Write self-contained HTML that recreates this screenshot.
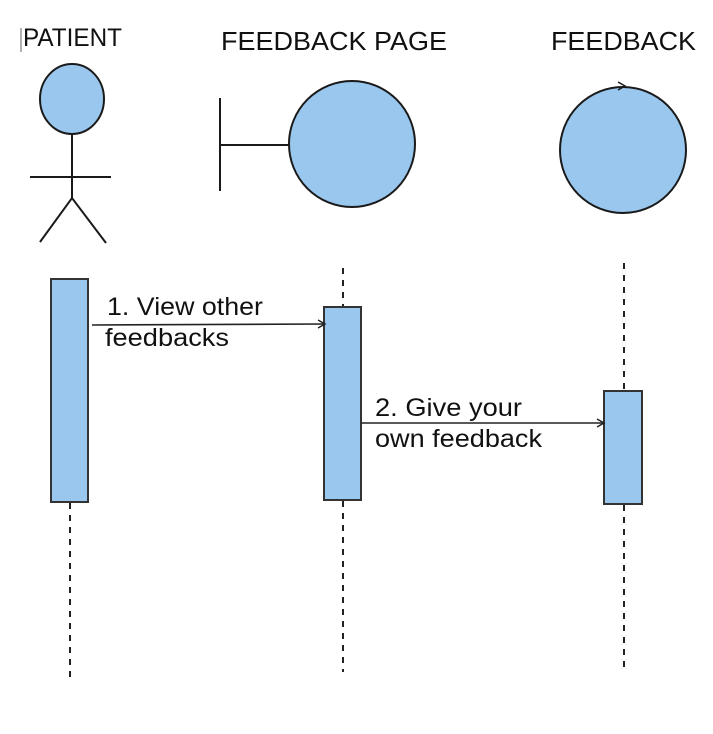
<!DOCTYPE html>
<html><head><style>body{margin:0;background:#fff}svg{display:block}text{font-family:"Liberation Sans",sans-serif;fill:#111}</style></head><body>
<svg width="713" height="734" viewBox="0 0 713 734" xmlns="http://www.w3.org/2000/svg">
<defs><marker id="a" markerWidth="10" markerHeight="10" refX="8" refY="5" orient="auto" markerUnits="userSpaceOnUse"><path d="M1,1 L8,5 L1,9" fill="none" stroke="#222" stroke-width="1.5"/></marker></defs>
<line x1="21" y1="28" x2="21" y2="52" stroke="#666" stroke-width="1"/>
<text x="23" y="46" font-size="25" textLength="99" lengthAdjust="spacingAndGlyphs">PATIENT</text>
<text x="221" y="50" font-size="26" textLength="226" lengthAdjust="spacingAndGlyphs">FEEDBACK PAGE</text>
<text x="551" y="50" font-size="26" textLength="145" lengthAdjust="spacingAndGlyphs">FEEDBACK</text>
<g stroke="#1a1a1a" stroke-width="2" fill="#9ac7ee">
<ellipse cx="72" cy="99" rx="32" ry="35"/>
<line x1="72" y1="134" x2="72" y2="198"/>
<line x1="30" y1="177" x2="111" y2="177"/>
<path d="M40,242 L72,198 L106,243" fill="none"/>
<line x1="220" y1="98" x2="220" y2="191"/>
<line x1="220" y1="145" x2="290" y2="145"/>
<ellipse cx="352" cy="144" rx="63" ry="63"/>
<ellipse cx="623" cy="150" rx="63" ry="63"/>
<path d="M618,82 L625,86 L618,90" fill="none" stroke-width="1.5"/>
</g>
<g stroke="#222" stroke-width="2" stroke-dasharray="6,6">
<line x1="70" y1="503" x2="70" y2="678"/>
<line x1="343" y1="268" x2="343" y2="307"/>
<line x1="343" y1="501" x2="343" y2="672"/>
<line x1="624" y1="263" x2="624" y2="391"/>
<line x1="624" y1="505" x2="624" y2="672"/>
</g>
<g stroke="#333" stroke-width="2" fill="#9ac7ee">
<rect x="51" y="279" width="37" height="223"/>
<rect x="324" y="307" width="37" height="193"/>
<rect x="604" y="391" width="38" height="113"/>
</g>
<g stroke="#222" stroke-width="1.6">
<line x1="92" y1="325" x2="325" y2="324" marker-end="url(#a)"/>
<line x1="361" y1="423" x2="604" y2="423" marker-end="url(#a)"/>
</g>
<text x="107" y="315" font-size="25" textLength="156" lengthAdjust="spacingAndGlyphs">1. View other</text>
<text x="105" y="346" font-size="25" textLength="124" lengthAdjust="spacingAndGlyphs">feedbacks</text>
<text x="375" y="416" font-size="25" textLength="147" lengthAdjust="spacingAndGlyphs">2. Give your</text>
<text x="375" y="447" font-size="25" textLength="167" lengthAdjust="spacingAndGlyphs">own feedback</text>
</svg>
</body></html>
